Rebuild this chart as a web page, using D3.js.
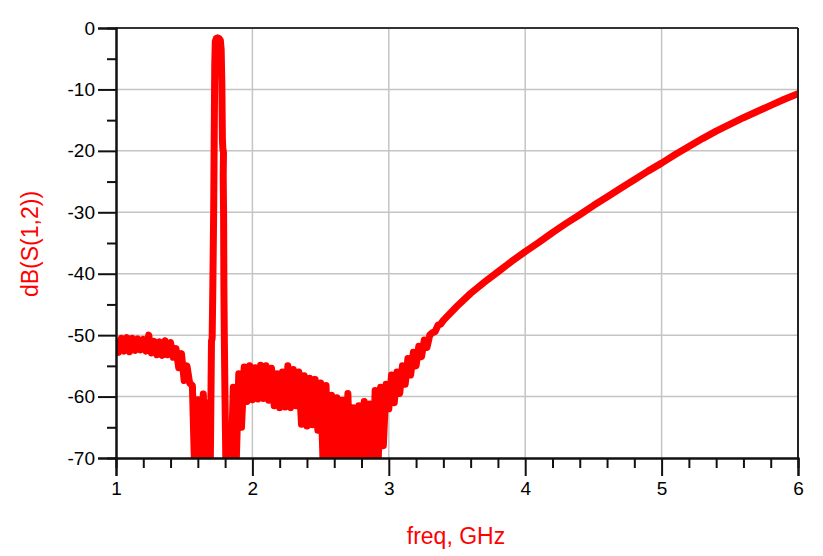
<!DOCTYPE html>
<html>
<head>
<meta charset="utf-8">
<script src="https://cdn.jsdelivr.net/npm/d3@7"></script>
<style>
  body { margin: 0; background: #fff; }
  svg text { font-family: "Liberation Sans", Arial, sans-serif; }
</style>
</head>
<body>
<svg id="chart" width="823" height="556"></svg>
<script>
// sweep points, GHz
const sweepLow = d3.range(1.00, 1.665, 0.02);
const sweepMid = d3.range(1.82, 3.385, 0.02);
const sweepRise = d3.range(3.4, 6.05, 0.1);

// dB(S(1,2))
const lowDb = [-50.6, -52.8, -50.5, -52.6, -50.4, -52.7, -50.5, -52.5, -50.6, -52.4,
  -50.7, -52.6, -50.0, -52.9, -51.0, -53.2, -51.1, -53.3, -50.9, -53.2,
  -51.2, -53.6, -52.2, -55.3, -53.0, -57.4, -55.0, -57.8, -58.2, -75,
  -60.5, -76, -59.6, -75];

// resonance around 1.75 GHz
const peakFreq = [1.68, 1.69, 1.697, 1.700, 1.705, 1.710, 1.716, 1.720, 1.724, 1.728,
  1.735, 1.745, 1.755, 1.765, 1.771, 1.776, 1.780, 1.783, 1.788, 1.786,
  1.789, 1.791, 1.794, 1.799, 1.805, 1.810];
const peakDb = [-61, -74, -58, -51, -50.5, -42, -30, -18, -6, -2.2,
  -1.7, -1.6, -1.7, -2.0, -3.5, -9, -18, -19.6, -20.3, -24,
  -31, -42, -50, -60, -70, -76];

const midDb = [-66, -75, -58.5, -72, -56.3, -65, -55.2, -60.8, -55.0,
  -60.5, -55.3, -60.4, -54.9, -60.3, -55.0, -60.6, -55.4, -61.5, -56.3,
  -61.8, -56.0, -61.7, -55.0, -61.8, -55.6, -61.5, -56.0, -64.5, -56.6,
  -64.8, -57.0, -64.6, -57.2, -65.5, -57.8, -72, -58.2, -75, -59.8,
  -76, -60.2, -75, -60.6, -76, -59.5, -75, -61.8, -76, -61.5,
  -75, -60.8, -76, -61.2, -74, -59.0, -72, -58.5, -68, -58.0,
  -62, -56.5, -61, -56.0, -59.5, -55.0, -58, -53.8, -56.5, -52.8,
  -55, -51.8, -53.5, -50.8, -52, -50.0, -49.6, -49.4, -48.4, -48.2];

const riseDb = [-47.6, -45.3, -43.2, -41.4, -39.7, -38.0, -36.4, -34.9, -33.3, -31.8,
  -30.4, -28.9, -27.5, -26.1, -24.7, -23.3, -22.0, -20.6, -19.3, -18.0,
  -16.8, -15.7, -14.6, -13.6, -12.6, -11.6, -10.7];

const xTicks = [1, 2, 3, 4, 5, 6];
const yTicks = [0, -10, -20, -30, -40, -50, -60, -70];

const trace = [].concat(
  sweepLow.map((f, i) => [f, lowDb[i]]),
  peakFreq.map((f, i) => [f, peakDb[i]]),
  sweepMid.map((f, i) => [f, midDb[i]]),
  sweepRise.map((f, i) => [f, riseDb[i]])
);

const plotL = 116, plotR = 798, plotT = 28, plotB = 458;
const svg = d3.select("#chart");

const x = d3.scaleLinear().domain([1, 6]).range([plotL, plotR]);
const y = d3.scaleLinear().domain([-70, 0]).range([plotB, plotT]);

const minorX = d3.range(1, 6.001, 0.2).filter(v => Math.abs(v - Math.round(v)) > 1e-6);
const minorY = d3.range(-65, 0, 10);

// plain hyphen for negatives, like the original
const plainNum = d => String(d);

// grid
svg.append("g")
  .selectAll("line")
  .data(xTicks.slice(1, -1))
  .join("line")
  .attr("x1", d => x(d)).attr("x2", d => x(d))
  .attr("y1", plotT).attr("y2", plotB)
  .attr("stroke", "#c4c4c4").attr("stroke-width", 1.5);

svg.append("g")
  .selectAll("line")
  .data(yTicks.slice(1, -1))
  .join("line")
  .attr("x1", plotL).attr("x2", plotR)
  .attr("y1", d => y(d)).attr("y2", d => y(d))
  .attr("stroke", "#c4c4c4").attr("stroke-width", 1.5);

// trace
svg.append("clipPath").attr("id", "plotClip")
  .append("rect")
  .attr("x", plotL).attr("y", plotT)
  .attr("width", plotR - plotL).attr("height", plotB - plotT);

const line = d3.line()
  .x(d => x(d[0]))
  .y(d => y(d[1]));

svg.append("path")
  .datum(trace)
  .attr("clip-path", "url(#plotClip)")
  .attr("fill", "none")
  .attr("stroke", "#ff0000")
  .attr("stroke-width", 7)
  .attr("stroke-linejoin", "round")
  .attr("d", line);

// frame: top and right
svg.append("line")
  .attr("x1", plotL).attr("x2", plotR).attr("y1", plotT).attr("y2", plotT)
  .attr("stroke", "#333").attr("stroke-width", 2);
svg.append("line")
  .attr("x1", plotR).attr("x2", plotR).attr("y1", plotT).attr("y2", plotB)
  .attr("stroke", "#222").attr("stroke-width", 2);

// axes
const xAxis = svg.append("g")
  .attr("transform", `translate(0,${plotB})`)
  .call(d3.axisBottom(x).tickValues(xTicks).tickSize(18).tickPadding(6).tickFormat(plainNum));
const xMinor = svg.append("g")
  .attr("transform", `translate(0,${plotB})`)
  .call(d3.axisBottom(x).tickValues(minorX).tickSize(10).tickFormat(""));

const yAxis = svg.append("g")
  .attr("transform", `translate(${plotL},0)`)
  .call(d3.axisLeft(y).tickValues(yTicks).tickSize(18).tickPadding(3).tickFormat(plainNum));
const yMinor = svg.append("g")
  .attr("transform", `translate(${plotL},0)`)
  .call(d3.axisLeft(y).tickValues(minorY).tickSize(9).tickFormat(""));

[xAxis, xMinor, yAxis, yMinor].forEach(g => {
  g.select(".domain").attr("stroke", "#111").attr("stroke-width", 2);
  g.selectAll(".tick line").attr("stroke", "#111").attr("stroke-width", 2);
  g.selectAll(".tick text")
    .attr("fill", "#000")
    .style("font-size", "19px")
    .style("font-family", "'Liberation Sans', Arial, sans-serif");
});

// titles
svg.append("text")
  .attr("x", 456).attr("y", 544)
  .attr("text-anchor", "middle")
  .attr("fill", "#ff0000")
  .style("font-size", "23px")
  .text("freq, GHz");

svg.append("text")
  .attr("transform", "translate(38,244) rotate(-90)")
  .attr("text-anchor", "middle")
  .attr("fill", "#ff0000")
  .style("font-size", "23px")
  .text("dB(S(1,2))");
</script>
</body>
</html>
